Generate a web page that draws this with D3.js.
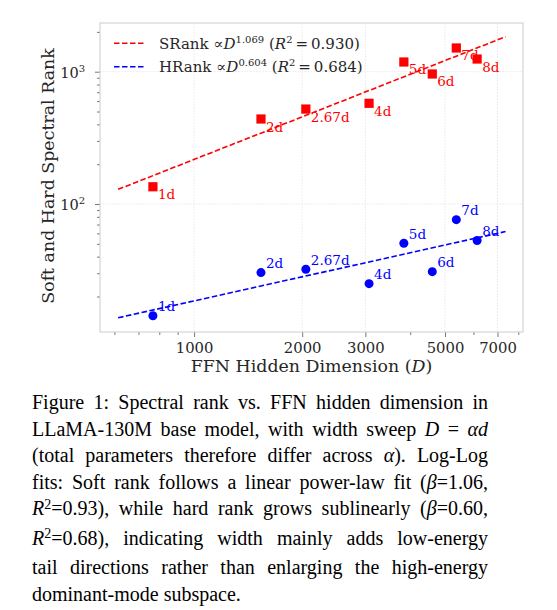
<!DOCTYPE html>
<html>
<head>
<meta charset="utf-8">
<script src="https://cdn.jsdelivr.net/npm/d3@7"></script>
<style>
  body { margin: 0; background: #fff; }
  #chart { position: absolute; left: 0; top: 0; }
  .caption {
    position: absolute; left: 32px; top: 389px; width: 456px;
    font-family: "Liberation Serif", "Times New Roman", serif;
    font-size: 20px; line-height: 26.5px; color: #000;
  }
  .caption div { text-align: justify; text-align-last: justify; white-space: nowrap; }
  .caption div.last { text-align-last: left; }
  .caption sup { font-size: 0.7em; vertical-align: baseline; position: relative; top: -0.45em; }
</style>
</head>
<body>
<div id="chart"></div>
<div class="caption">
  <div>Figure 1: Spectral rank vs. FFN hidden dimension in</div>
  <div>LLaMA-130M base model, with width sweep <i>D</i> = <i>αd</i></div>
  <div>(total parameters therefore differ across <i>α</i>). Log-Log</div>
  <div>fits: Soft rank follows a linear power-law fit (<i>β</i>=1.06,</div>
  <div><i>R</i><sup>2</sup>=0.93), while hard rank grows sublinearly (<i>β</i>=0.60,</div>
  <div><i>R</i><sup>2</sup>=0.68), indicating width mainly adds low-energy</div>
  <div>tail directions rather than enlarging the high-energy</div>
  <div class="last">dominant-mode subspace.</div>
</div>
<script>
// width sweep points (D = alpha * 768)
const labels = ["1d", "2d", "2.67d", "4d", "5d", "6d", "7d", "8d"];
const dims = [768, 1536, 2048, 3072, 3840, 4608, 5376, 6144];
const sRank = [135, 439, 522, 577, 1184, 961, 1511, 1247];
const hRank = [14.3, 30.3, 32.1, 25.0, 50.5, 30.8, 76.2, 53.0];

const fitExp = [1.069, 0.604];
const fitR2 = ["0.930", "0.684"];
const seriesNames = ["SRank", "HRank"];
const colors = ["#ff0000", "#0000ff"];

const xTicks = [1000, 2000, 3000, 5000, 7000];
const xMinor = [600, 700, 800, 900, 4000, 6000, 8000];
const yTicks = [100, 1000];
const yMinor = [20, 30, 40, 50, 60, 70, 80, 90, 200, 300, 400, 500, 600, 700, 800, 900, 2000];

const serif = "'DejaVu Serif', serif";
const textColor = "#262626";

const margin = { top: 23, right: 34, bottom: 48, left: 100 };
const width = 557 - margin.left - margin.right;
const height = 380 - margin.top - margin.bottom;

const x = d3.scaleLog().domain([547, 8245]).range([0, width]);
const y = d3.scaleLog().domain([10.78, 2334]).range([height, 0]);

const svg = d3.select("#chart").append("svg")
    .attr("width", 557)
    .attr("height", 380)
  .append("g")
    .attr("transform", "translate(" + margin.left + "," + margin.top + ")");

// grid
svg.append("g")
    .selectAll("line")
    .data(xTicks)
  .enter().append("line")
    .attr("x1", d => x(d)).attr("x2", d => x(d))
    .attr("y1", 0).attr("y2", height)
    .attr("stroke", "#e8e8e8").attr("stroke-width", 0.8)
    .attr("stroke-dasharray", "2,1");

svg.append("g")
    .selectAll("line")
    .data(yTicks)
  .enter().append("line")
    .attr("y1", d => y(d)).attr("y2", d => y(d))
    .attr("x1", 0).attr("x2", width)
    .attr("stroke", "#e8e8e8").attr("stroke-width", 0.8)
    .attr("stroke-dasharray", "2,1");

// axes
const xAxis = d3.axisBottom(x).tickValues(xTicks).tickSize(5).tickPadding(5).tickFormat(d3.format("d"));
const xAxisMinor = d3.axisBottom(x).tickValues(xMinor).tickSize(3).tickFormat("");
const yAxis = d3.axisLeft(y).tickValues(yTicks).tickSize(5).tickFormat("");
const yAxisMinor = d3.axisLeft(y).tickValues(yMinor).tickSize(3).tickFormat("");

svg.append("g").attr("class", "x axis")
    .attr("transform", "translate(0," + height + ")")
    .call(xAxis);
svg.append("g").attr("class", "x axis minor")
    .attr("transform", "translate(0," + height + ")")
    .call(xAxisMinor);
svg.append("g").attr("class", "y axis").call(yAxis);
svg.append("g").attr("class", "y axis minor").call(yAxisMinor);

svg.selectAll(".axis").attr("font-family", null).attr("font-size", null);
svg.selectAll(".axis .domain").remove();
svg.selectAll(".axis line").attr("stroke", "#555").attr("stroke-width", 0.8);
svg.selectAll(".x.axis text")
    .style("font-family", serif)
    .style("font-size", "14.8px")
    .attr("fill", textColor);

// y tick labels as 10^n
svg.append("g").selectAll("text")
    .data(yTicks)
  .enter().append("text")
    .attr("x", -15)
    .attr("y", d => y(d) + 6)
    .attr("text-anchor", "end")
    .style("font-family", serif)
    .style("font-size", "14.5px")
    .attr("fill", textColor)
    .each(function(d) {
        const t = d3.select(this);
        t.append("tspan").text("10");
        t.append("tspan").attr("dy", -6).style("font-size", "10px").text(Math.round(Math.log10(d)));
    });

// frame
svg.append("rect")
    .attr("width", width).attr("height", height)
    .attr("fill", "none")
    .attr("stroke", "#cccccc").attr("stroke-width", 1);

// fit lines: slope from legend, intercept through the log means
const series = [sRank, hRank];
const lx = dims.map(Math.log10);
const fitRange = [dims[0] * 0.8, dims[dims.length - 1] * 1.2];

series.forEach((vals, k) => {
    const ly = vals.map(Math.log10);
    const b = fitExp[k];
    const a = d3.mean(ly) - b * d3.mean(lx);
    const pts = fitRange.map(D => [x(D), y(Math.pow(10, a + b * Math.log10(D)))]);
    svg.append("path")
        .attr("d", d3.line()(pts))
        .attr("fill", "none")
        .attr("stroke", colors[k])
        .attr("stroke-width", 1.6)
        .attr("stroke-dasharray", "5.5,2.5");
});

// markers
svg.append("g").selectAll("rect")
    .data(dims)
  .enter().append("rect")
    .attr("x", (d, i) => x(d) - 4.6)
    .attr("y", (d, i) => y(sRank[i]) - 4.6)
    .attr("width", 9.2).attr("height", 9.2)
    .attr("fill", colors[0]);

svg.append("g").selectAll("circle")
    .data(dims)
  .enter().append("circle")
    .attr("cx", d => x(d))
    .attr("cy", (d, i) => y(hRank[i]))
    .attr("r", 4.5)
    .attr("fill", colors[1]);

// point labels
svg.append("g").selectAll("text")
    .data(dims)
  .enter().append("text")
    .attr("x", d => x(d) + 5)
    .attr("y", (d, i) => y(sRank[i]) + 12.5)
    .style("font-family", serif)
    .style("font-size", "13.5px")
    .attr("fill", colors[0])
    .text((d, i) => labels[i]);

svg.append("g").selectAll("text")
    .data(dims)
  .enter().append("text")
    .attr("x", d => x(d) + 5)
    .attr("y", (d, i) => y(hRank[i]) - 4.5)
    .style("font-family", serif)
    .style("font-size", "13.5px")
    .attr("fill", colors[1])
    .text((d, i) => labels[i]);

// legend
const legend = svg.append("g").attr("transform", "translate(14,20.3)");
seriesNames.forEach((name, k) => {
    const row = legend.append("g").attr("transform", "translate(0," + (k * 23.4) + ")");
    row.append("line")
        .attr("x1", 0).attr("x2", 32)
        .attr("stroke", colors[k]).attr("stroke-width", 1.6)
        .attr("stroke-dasharray", "5.5,2.5");
    const t = row.append("text")
        .attr("x", 45).attr("y", 5.5)
        .style("font-family", serif)
        .style("font-size", "15px")
        .attr("fill", textColor);
    t.append("tspan").text(name + " \u221D");
    t.append("tspan").style("font-style", "italic").text("D");
    t.append("tspan").attr("dy", -6).style("font-size", "10px").text(fitExp[k].toFixed(3));
    t.append("tspan").attr("dy", 6).text(" (");
    t.append("tspan").style("font-style", "italic").text("R");
    t.append("tspan").attr("dy", -6).style("font-size", "10px").text("2");
    t.append("tspan").attr("dy", 6).text("\u2009=\u2009" + fitR2[k] + ")");
});

// axis titles
const xl = svg.append("text")
    .attr("x", width / 2)
    .attr("y", height + 40)
    .attr("text-anchor", "middle")
    .style("font-family", serif)
    .style("font-size", "17.4px")
    .attr("fill", textColor);
xl.append("tspan").text("FFN Hidden Dimension (");
xl.append("tspan").style("font-style", "italic").text("D");
xl.append("tspan").text(")");

svg.append("text")
    .attr("transform", "rotate(-90)")
    .attr("x", -(176 - margin.top))
    .attr("y", -46)
    .attr("text-anchor", "middle")
    .style("font-family", serif)
    .style("font-size", "17.4px")
    .attr("fill", textColor)
    .text("Soft and Hard Spectral Rank");
</script>
</body>
</html>
